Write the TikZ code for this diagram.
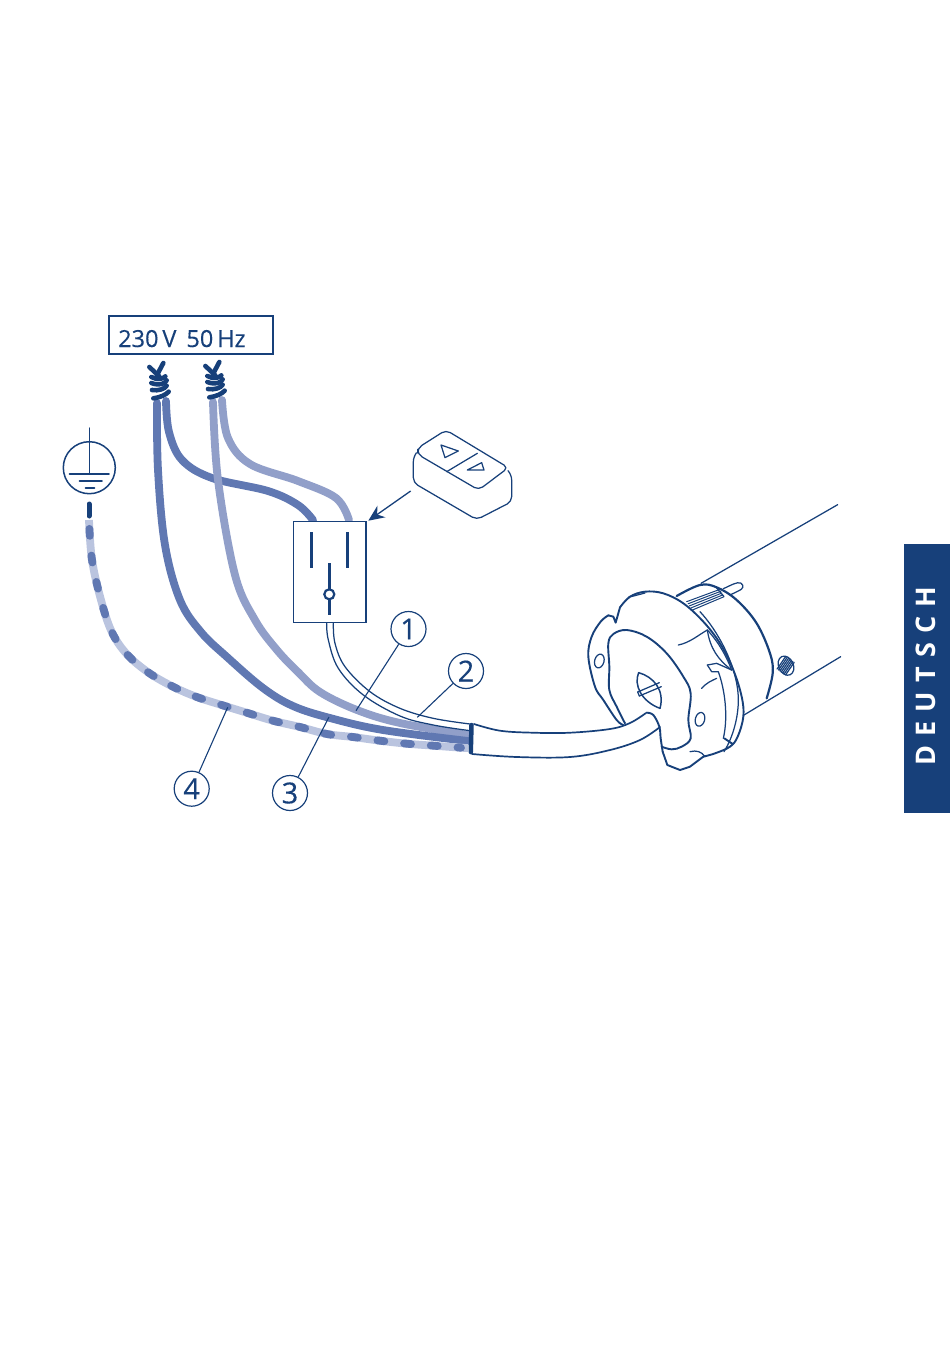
\documentclass[tikz,border=0pt]{standalone}
\usepackage{fontspec}
\setmainfont{Open Sans}
\usetikzlibrary{arrows.meta}
\definecolor{navy}{HTML}{17407A}
\definecolor{wmid}{HTML}{6078B2}
\definecolor{wlight}{HTML}{919FC9}
\definecolor{wpale}{HTML}{BAC4DF}
\tikzset{
  ink/.style={draw=navy,line width=1.25pt,line cap=round,line join=round,fill=none},
  inkheavy/.style={draw=navy,line width=1.9pt,line cap=round,line join=round,fill=none},
  wirestyle/.style={line width=7.8pt,line cap=round,line join=round},
  twiststyle/.style={draw=navy,line width=4.6pt,line cap=round},
  numcircle/.style={circle,draw=navy,line width=1.2pt,minimum size=35pt,inner sep=0pt,text=navy,font=\fontsize{29}{30}\selectfont\addfontfeature{FakeBold=0.3}},
  leader/.style={draw=navy,line width=1.1pt},
  sm/.style={smooth,tension=0.6}
}
\newcommand{\twistmark}{%
  \draw[twiststyle] (298,186) -- (328,214);
  \draw[twiststyle] (340,174) -- (320,212);
  \draw[twiststyle] (304,216) .. controls (322,226) and (340,222) .. (346,214);
  \draw[twiststyle] (304,234) .. controls (325,242) and (345,238) .. (350,226);
  \draw[twiststyle] (306,255) .. controls (325,258) and (345,252) .. (350,242);
  \draw[twiststyle] (310,280) .. controls (330,278) and (350,268) .. (356,260);
}
\begin{document}
\begin{tikzpicture}[x=1pt,y=-1pt]
\useasboundingbox (0,0) rectangle (950,1353);
% side tab
\node[fill=navy,minimum width=46pt,minimum height=269pt,inner sep=0pt,anchor=north west] (tab) at (904,544) {};
\node[rotate=90,text=white,font=\fontsize{27}{30}\selectfont\bfseries\addfontfeature{LetterSpace=34}] (tabtext) at (926,676) {DEUTSCH};
% mains label
\node[draw=navy,line width=2pt,minimum width=164pt,minimum height=38pt,inner sep=0pt,anchor=north west] (mains) at (108,315) {};
\node[anchor=base west,text=navy,inner sep=0pt,font=\fontsize{23.5}{28}\selectfont\addfontfeature{FakeBold=0.3}] (mainstext) at (118,347) {230\,V\ \,50\,Hz};
% wires
\draw[wirestyle,wmid] plot[sm] coordinates {(166,401) (169,432) (182,460) (212,478) (268,491) (298,505) (313,520)};
\draw[wirestyle,wlight] plot[sm] coordinates {(222,400) (228,438) (250,464) (298,481) (336,498) (349,520)};
\draw[wirestyle,wlight] plot[sm] coordinates {(213,402) (218,480) (235,575) (255,620) (277,650) (298,672) (320,692) (357,710) (400,723) (468,735)};
\draw[wirestyle,wmid] plot[sm] coordinates {(157,403) (158,470) (165,545) (180,600) (201,632) (227,657) (263,688) (293,706) (330,718) (383,730) (468,741)};
\draw[wirestyle,wpale,line cap=butt] plot[sm] coordinates {(468,748) (461,747.7) (434,745.7) (407,743.7) (380,740.7) (353,737) (327,734) (300,727) (273,720.7) (247.7,713) (221.7,705) (196,696.7) (171,685.7) (147.7,672) (126.7,654) (111.7,631.7) (101,600) (92,560) (89,520)};
\draw[wirestyle,wmid,dash pattern=on 7pt off 19.8pt,dash phase=3.5pt,line cap=round] plot[sm] coordinates {(461,747.7) (434,745.7) (407,743.7) (380,740.7) (353,737) (327,734) (300,727) (273,720.7) (247.7,713) (221.7,705) (196,696.7) (171,685.7) (147.7,672) (126.7,654) (111.7,631.7) (101,600) (92,560) (89,520)};
\draw[draw=navy,line width=5pt,line cap=round] (89,504) -- (89,516);
% twists
\begin{scope}[shift={(50,305)},scale=1/3]\twistmark\end{scope}
\begin{scope}[shift={(106,304)},scale=1/3]\twistmark\end{scope}
% earth symbol
\node[circle,draw=navy,line width=1.5pt,minimum size=52pt,inner sep=0pt] (earth) at (89.3,467.7) {};
\draw[ink] (89.3,428) -- (89.3,473.7);
\draw[inkheavy] (69.5,473.7) -- (109,473.7);
\draw[inkheavy] (79.5,480.7) -- (102,480.7);
\draw[inkheavy] (85.5,487.7) -- (94.5,487.7);
% switch box
\node[draw=navy,line width=1.1pt,fill=white,minimum width=72.4pt,minimum height=101pt,inner sep=0pt,anchor=north west] (switch) at (293,521) {};
\draw[draw=navy,line width=3pt] (311.3,532) -- (311.3,567.7);
\draw[draw=navy,line width=3pt] (347.3,532) -- (347.3,567.7);
\draw[draw=navy,line width=3pt] (329.3,563.3) -- (329.3,615);
\node[circle,draw=navy,line width=2.2pt,fill=white,minimum size=10pt,inner sep=0pt] (pivot) at (329.3,594.3) {};
% remote
\begin{scope}[shift={(280,420)},scale=1/3]
\draw[ink,rounded corners=5pt] (413,84) -- (498,30) -- (685,143) -- (596,210) -- (413,103) -- cycle;
\draw[ink,rounded corners=5pt] (408,100) -- (400,110) -- (400,188) -- (590,299) -- (695,245) -- (695,165) -- (684,152);
\draw[ink] (500,155) -- (592,100);
\draw[ink] (483,75) -- (535,93) -- (495,113) -- cycle;
\draw[ink] (562,150) -- (605,128) -- (612,150) -- cycle;
\coordinate (remotetail) at (392,213);
\end{scope}
\coordinate (arrowtip) at (368.3,520.7);
\draw[draw=navy,line width=1.3pt,-{Stealth[length=16pt,width=14pt]}] (remotetail) -- (arrowtip);
% white signal wire
\begin{scope}[shift={(300,610)},scale=1/3]
\draw[ink] plot[sm] coordinates {(80,40) (85,90) (115,175) (190,255) (300,318) (400,345) (510,362)};
\draw[ink] plot[sm] coordinates {(100,40) (105,100) (135,170) (210,245) (300,295) (400,325) (510,342)};
\coordinate (end1) at (168,302);
\coordinate (end2) at (352,322);
\end{scope}
% cable
\draw[ink,line width=1.7pt] plot[sm] coordinates {(474,724) (500,730.7) (533,732.7) (570,732.7) (610,729) (630,723) (646,713)};
\draw[ink,line width=1.7pt] plot[sm] coordinates {(472,754) (517,757) (570,757) (610,750) (640,740) (660,727)};
\draw[draw=navy,line width=4.5pt,line cap=round] (471.5,725) -- (470.8,752);
% motor
\begin{scope}[shift={(570,490)},scale=1/3]
\draw[ink] (393,280) -- (803,44);
\draw[ink] (522,675) -- (812,500);
\draw[inkheavy,line width=2.2pt] plot[sm] coordinates {(320,318) (390,285) (440,292) (500,330) (560,400) (600,490) (608,550) (590,625)};
\draw[ink] (460,296) .. controls (485,285) and (500,275) .. (512,279) .. controls (525,287) and (518,298) .. (505,303) -- (480,315);
\foreach \d in {0,7,14,21,28} {\draw[ink,line width=1pt] (350+\d*0.6,335+\d*0.9) -- (450+\d*0.4,298+\d*0.8);}
\draw[ink] (440,294) -- (462,320);
\draw[inkheavy] plot[sm] coordinates {(150,352) (180,320) (225,305) (280,310) (340,340) (400,395) (450,460) (490,540) (515,620) (520,680) (503,740) (480,770) (435,790) (400,800)};
\draw[ink] (175,322) -- (225,309);
\draw[ink] (390,365) .. controls (450,430) and (505,540) .. (505,630) .. controls (505,680) and (490,740) .. (462,785);
\draw[inkheavy] (150,352) -- (137,398) -- (130,380) -- (115,376);
\draw[inkheavy] plot[sm] coordinates {(115,376) (92,395) (65,440) (55,500) (75,590) (100,630) (140,690) (160,705)};
\draw[inkheavy] plot[sm] coordinates {(165,700) (140,650) (118,600) (118,530) (115,460) (130,432) (170,420) (230,440) (290,490) (340,560) (362,610) (355,690) (362,745) (335,770) (305,778) (275,770)};
\draw[inkheavy] plot[sm] coordinates {(230,668) (250,675) (268,710) (272,745) (278,785)};
\draw[inkheavy] (278,785) -- (292,825) -- (330,840) -- (360,830) -- (400,800);
\draw[ink,rotate around={-15:(88,513)}] (88,513) ellipse (14 and 21);
\draw[ink,rotate around={-15:(390,688)}] (390,688) ellipse (14 and 21);
\draw[ink,line width=1.5pt] (206,548) .. controls (190,585) and (215,635) .. (270,655);
\draw[ink,line width=1.5pt] (206,548) .. controls (250,560) and (285,600) .. (270,655);
\draw[ink] (203,606) -- (268,578);
\draw[ink] (208,618) -- (274,590);
\draw[ink] (203,606) -- (208,618);
\draw[ink] (325,465) .. controls (360,458) and (385,435) .. (412,420);
\draw[ink] (412,420) .. controls (420,475) and (445,510) .. (485,540);
\draw[ink] (412,420) .. controls (445,455) and (470,500) .. (485,540);
\draw[ink] (412,525) -- (440,520) -- (485,540);
\draw[ink] (412,525) -- (425,545) -- (445,545) .. controls (465,600) and (475,680) .. (460,745);
\draw[ink] (395,595) .. controls (410,578) and (425,572) .. (440,565);
\draw[ink] (360,785) .. controls (380,780) and (395,785) .. (405,800);
\draw[inkheavy] (463,745) -- (488,762);
\draw[ink,rotate around={25:(648,527)}] (648,527) ellipse (22 and 30);
\foreach \d in {-18,-12,-6,0,6,12,18} {\draw[ink] (634+\d*0.7,546+\d*0.5) -- (660+\d*0.7,508+\d*0.5);}
\end{scope}
% number circles and leaders
\node[numcircle] (n1) at (408.5,629) {1};
\node[numcircle] (n2) at (466,671) {2};
\node[numcircle] (n3) at (290,793) {3};
\node[numcircle] (n4) at (191.7,788.7) {4};
\coordinate (end3) at (329,717);
\coordinate (end4) at (227.7,707.3);
\draw[leader] (n1) -- (end1);
\draw[leader] (n2) -- (end2);
\draw[leader] (n3) -- (end3);
\draw[leader] (n4) -- (end4);
\end{tikzpicture}
\end{document}
